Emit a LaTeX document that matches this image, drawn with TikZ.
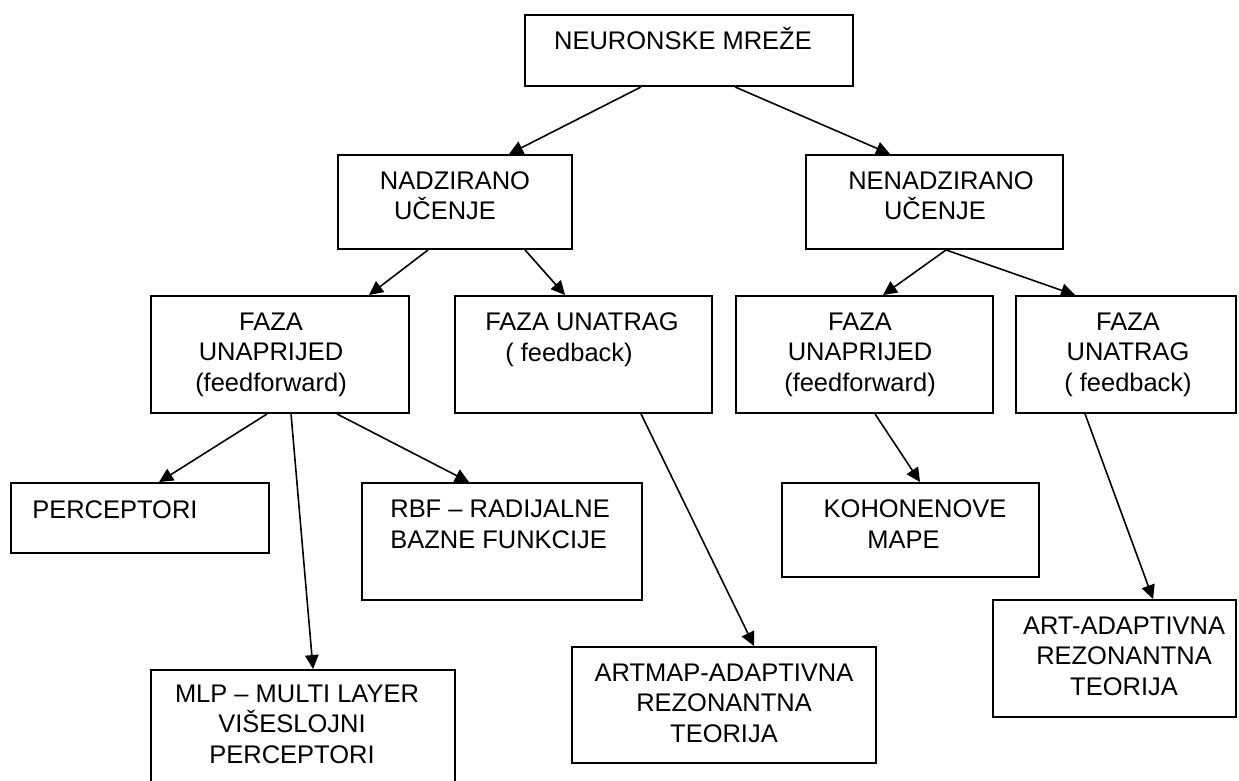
\documentclass[tikz,border=0pt]{standalone}
\usepackage{fontspec}
\setmainfont{Liberation Sans}
\usetikzlibrary{arrows.meta,calc,fit}

\begin{document}
\begin{tikzpicture}[x=0.02cm, y=-0.02cm,
	bx/.style={draw, line width=1.1pt, inner sep=0pt},
	tx/.style={font=\fontsize{14.5}{17.1}\selectfont, align=center, anchor=base, inner sep=0pt},
	tl/.style={tx, align=left, anchor=base west},
	ar/.style={line width=0.9pt, -{Triangle[length=0.28cm, width=0.27cm]}}]
	
	\clip (0,0) rectangle (1239,780);
	
	% boxes
	\node[bx, fit={(525,15) (853,86)}] (neur) {};
	\node[bx, fit={(338,155) (572,249)}] (nadz) {};
	\node[bx, fit={(806,155) (1063,249)}] (nenadz) {};
	
	\node[bx, fit={(151,296) (409,413)}] (ffL) {};
	\node[bx, fit={(455,296) (712,413)}] (fbL) {};
	\node[bx, fit={(736,296) (993,413)}] (ffR) {};
	\node[bx, fit={(1016,296) (1236,413)}] (fbR) {};
	
	\node[bx, fit={(11,483) (269,553)}] (perc) {};
	\node[bx, fit={(362,483) (642,600)}] (rbf) {};
	\node[bx, fit={(782,483) (1039,577)}] (koh) {};
	\node[bx, fit={(151,670) (455,800)}] (mlp) {};
	\node[bx, fit={(572,647) (876,763)}] (artmap) {};
	\node[bx, fit={(993,600) (1236,717)}] (art) {};
	
	% texts (base = last line)
	\node[tx] (neur-t) at (683,50) {NEURONSKE MREŽE};
	\node[tx] (nadz-t) at (450,220) {\hspace*{0.2cm}NADZIRANO\\UČENJE\hspace*{0.2cm}};
	\node[tx] (nenadz-t) at (938,220) {\hspace*{0.12cm}NENADZIRANO\\UČENJE\hspace*{0.12cm}};
	\node[tx] (ffL-t) at (271,391) {FAZA\\UNAPRIJED\\(feedforward)};
	\node[tx] (fbL-t) at (575,361) {\hspace*{0.28cm}FAZA UNATRAG\\( feedback)\hspace*{0.24cm}};
	\node[tx] (ffR-t) at (860,391) {FAZA\\UNAPRIJED\\(feedforward)};
	\node[tx] (fbR-t) at (1128,391) {FAZA\\UNATRAG\\( feedback)};
	\node[tl] (perc-t) at (32,518) {PERCEPTORI};
	\node[tl] (rbf-t) at (390,548) {RBF – RADIJALNE\\BAZNE FUNKCIJE};
	\node[tx] (koh-t) at (909,548) {\hspace*{0.24cm}KOHONENOVE\\MAPE\hspace*{0.22cm}};
	\node[tx] (mlp-t) at (292,763) {\hspace*{0.2cm}MLP – MULTI LAYER\\VIŠESLOJNI\\PERCEPTORI};
	\node[tx] (artmap-t) at (724,742) {ARTMAP-ADAPTIVNA\\REZONANTNA\\TEORIJA};
	\node[tx] (art-t) at (1124,695) {ART-ADAPTIVNA\\REZONANTNA\\TEORIJA};
	
	% arrows
	\draw[ar] ($(neur.south west)+(117,0)$) -- ($(nadz.north west)+(172,0)$);
	\draw[ar] ($(neur.south west)+(211,0)$) -- ($(nenadz.north west)+(85,0)$);
	\draw[ar] ($(nadz.south west)+(91,0)$) -- ($(ffL.north west)+(219,0)$);
	\draw[ar] ($(nadz.south west)+(188,0)$) -- ($(fbL.north west)+(111,0)$);
	\draw[ar] ($(nenadz.south west)+(141,0)$) -- ($(ffR.north west)+(148,0)$);
	\draw[ar] ($(nenadz.south west)+(141,0)$) -- ($(fbR.north west)+(60,0)$);
	\draw[ar] ($(ffL.south west)+(117,0)$) -- ($(perc.north west)+(149,0)$);
	\draw[ar] ($(ffL.south west)+(141,0)$) -- ($(mlp.north west)+(163,0)$);
	\draw[ar] ($(ffL.south west)+(187,0)$) -- ($(rbf.north west)+(108,0)$);
	\draw[ar] ($(fbL.south west)+(187,0)$) -- ($(artmap.north west)+(183,0)$);
	\draw[ar] ($(ffR.south west)+(140,0)$) -- ($(koh.north west)+(139,0)$);
	\draw[ar] ($(fbR.south west)+(70,0)$) -- ($(art.north west)+(161,0)$);
\end{tikzpicture}
\end{document}
